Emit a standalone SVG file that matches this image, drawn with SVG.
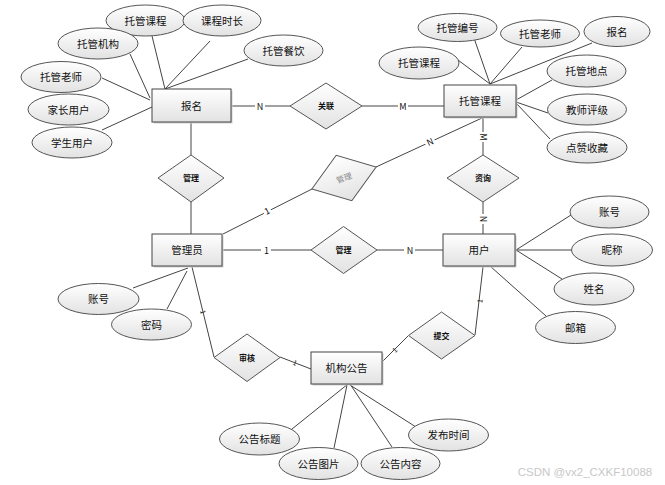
<svg xmlns="http://www.w3.org/2000/svg" width="665" height="485" viewBox="0 0 665 485">
<defs>
<linearGradient id="g" x1="0" y1="0" x2="0" y2="1">
<stop offset="0" stop-color="#ffffff"/>
<stop offset="1" stop-color="#e2e2e2"/>
</linearGradient>
<style>
text{font-family:"Noto Sans CJK SC","Liberation Sans",sans-serif;text-anchor:middle;fill:#111}
.e ellipse{fill:url(#g);stroke:#555;stroke-width:1}
.r rect.b{fill:url(#g);stroke:#444;stroke-width:1}
.r rect.s{fill:#cfcfcf}
.d polygon{fill:url(#g);stroke:#555;stroke-width:1}
.lt{font-size:10.5px}
.dt{font-size:8px;font-weight:bold}
.ct{font-size:9px}
.tk{font-size:7px}
#connectors line,#connectors polyline{stroke:#444;stroke-width:1;fill:none}
</style>
</defs>
<rect width="665" height="485" fill="#fff"/>

<g id="connectors">
<line x1="165" y1="89" x2="152" y2="36"/>
<line x1="165" y1="89" x2="210" y2="41"/>
<line x1="150" y1="98" x2="130" y2="54"/>
<line x1="150" y1="100" x2="102" y2="78"/>
<line x1="165" y1="89" x2="248" y2="59"/>
<line x1="152" y1="107" x2="102" y2="130"/>
<line x1="231" y1="106" x2="290" y2="106"/>
<line x1="191" y1="122" x2="191" y2="155"/>
<line x1="362" y1="106" x2="444" y2="106"/>
<line x1="490" y1="84" x2="474" y2="38"/>
<line x1="490" y1="84" x2="522" y2="47"/>
<line x1="490" y1="84" x2="592" y2="43"/>
<line x1="490" y1="84" x2="458" y2="60"/>
<line x1="516" y1="100" x2="552" y2="80"/>
<line x1="516" y1="102" x2="548" y2="113"/>
<line x1="516" y1="103" x2="550" y2="139"/>
<line x1="483" y1="117" x2="483" y2="155"/>
<line x1="482" y1="118" x2="376" y2="167"/>
<line x1="223" y1="234" x2="312" y2="189"/>
<line x1="191" y1="202" x2="191" y2="234"/>
<line x1="222" y1="250" x2="311" y2="250"/>
<line x1="377" y1="250" x2="443" y2="250"/>
<line x1="483" y1="202" x2="483" y2="234"/>
<line x1="516" y1="250" x2="571" y2="215"/>
<line x1="516" y1="250" x2="572" y2="250"/>
<line x1="516" y1="250" x2="562" y2="279"/>
<line x1="490" y1="266" x2="546" y2="316"/>
<line x1="188" y1="268" x2="133" y2="288"/>
<line x1="187" y1="271" x2="167" y2="309"/>
<line x1="192" y1="267" x2="214" y2="357"/>
<line x1="280" y1="357" x2="311" y2="369"/>
<line x1="483" y1="267" x2="475" y2="335"/>
<line x1="408" y1="336" x2="382" y2="362"/>
<line x1="348" y1="384" x2="292" y2="429"/>
<line x1="347" y1="385" x2="334" y2="448"/>
<line x1="350" y1="384" x2="392" y2="447"/>
<line x1="350" y1="385" x2="416" y2="427"/>
<g>
<rect x="255" y="101" width="10" height="10" fill="#fff"/>
<text class="ct" x="260" y="109.5">N</text>
<rect x="398" y="101" width="10" height="10" fill="#fff"/>
<text class="ct" x="403" y="109.5">M</text>
<rect x="261" y="245" width="10" height="10" fill="#fff"/>
<text class="ct" x="266.5" y="253.5">1</text>
<rect x="404" y="245" width="11" height="10" fill="#fff"/>
<text class="ct" x="410" y="253.5">N</text>
<rect x="478" y="132" width="10" height="10" fill="#fff"/>
<text class="ct" transform="translate(483,137) rotate(90)" y="3.2">M</text>
<rect x="478" y="214" width="10" height="10" fill="#fff"/>
<text class="ct" transform="translate(483,219) rotate(90)" y="3.2">N</text>
<g transform="translate(267,211) rotate(-26.6)"><rect x="-4" y="-5" width="8" height="10" fill="#fff"/><text class="ct" y="3.2">1</text></g>
<g transform="translate(430,142) rotate(-24.8)"><rect x="-5" y="-5" width="10" height="10" fill="#fff"/><text class="ct" y="3.2">N</text></g>
<text class="tk" transform="translate(203,312) rotate(76)" y="2.5">1</text>
<text class="tk" transform="translate(295,363) rotate(22)" y="2.5">1</text>
<text class="tk" transform="translate(395,350) rotate(-44)" y="2.5">1</text>
<text class="tk" transform="translate(480,301) rotate(-83)" y="2.5">1</text>
</g>
</g>

<g id="attr-tuoguankecheng1" class="e"><ellipse cx="145.5" cy="20.5" rx="39.5" ry="15.5"/><text class="lt" x="145.5" y="24.5">托管课程</text></g>
<g id="attr-kechengshichang" class="e"><ellipse cx="222" cy="20.5" rx="39" ry="15.5"/><text class="lt" x="222" y="24.5">课程时长</text></g>
<g id="attr-tuoguanjigou" class="e"><ellipse cx="98" cy="43.5" rx="40" ry="15.5"/><text class="lt" x="98" y="47.5">托管机构</text></g>
<g id="attr-tuoguancanyin" class="e"><ellipse cx="283.5" cy="50.5" rx="39.5" ry="15.5"/><text class="lt" x="283.5" y="54.5">托管餐饮</text></g>
<g id="attr-tuoguanlaoshi1" class="e"><ellipse cx="61" cy="77" rx="40" ry="15.5"/><text class="lt" x="61" y="81">托管老师</text></g>
<g id="attr-jiazhangyonghu" class="e"><ellipse cx="68.5" cy="109.5" rx="40.5" ry="15.5"/><text class="lt" x="68.5" y="113.5">家长用户</text></g>
<g id="attr-xueshengyonghu" class="e"><ellipse cx="72" cy="142.5" rx="40" ry="15.5"/><text class="lt" x="72" y="146.5">学生用户</text></g>

<g id="attr-tuoguanbianhao" class="e"><ellipse cx="457.5" cy="27.5" rx="39.5" ry="14"/><text class="lt" x="457.5" y="31.5">托管编号</text></g>
<g id="attr-tuoguanlaoshi2" class="e"><ellipse cx="540" cy="33.5" rx="39.5" ry="13.5"/><text class="lt" x="540" y="37.5">托管老师</text></g>
<g id="attr-baoming2" class="e"><ellipse cx="617" cy="31.5" rx="33" ry="15"/><text class="lt" x="617" y="35.5">报名</text></g>
<g id="attr-tuoguankecheng2" class="e"><ellipse cx="419" cy="63" rx="40" ry="16"/><text class="lt" x="419" y="67">托管课程</text></g>
<g id="attr-tuoguandidian" class="e"><ellipse cx="586.5" cy="71" rx="39.5" ry="16"/><text class="lt" x="586.5" y="75">托管地点</text></g>
<g id="attr-jiaoshipingji" class="e"><ellipse cx="587" cy="109.5" rx="39.5" ry="15.5"/><text class="lt" x="587" y="113.5">教师评级</text></g>
<g id="attr-dianzanshoucang" class="e"><ellipse cx="587" cy="147.5" rx="40" ry="15.5"/><text class="lt" x="587" y="151.5">点赞收藏</text></g>

<g id="attr-zhanghao-user" class="e"><ellipse cx="609.5" cy="212" rx="39.5" ry="16"/><text class="lt" x="609.5" y="216">账号</text></g>
<g id="attr-nicheng" class="e"><ellipse cx="612" cy="250" rx="40.5" ry="16"/><text class="lt" x="612" y="254">昵称</text></g>
<g id="attr-xingming" class="e"><ellipse cx="594" cy="289" rx="40" ry="16"/><text class="lt" x="594" y="293">姓名</text></g>
<g id="attr-youxiang" class="e"><ellipse cx="575.5" cy="327.5" rx="40" ry="16"/><text class="lt" x="575.5" y="331.5">邮箱</text></g>

<g id="attr-zhanghao-admin" class="e"><ellipse cx="98.5" cy="299" rx="40.5" ry="15.5"/><text class="lt" x="98.5" y="303">账号</text></g>
<g id="attr-mima" class="e"><ellipse cx="151.5" cy="324.5" rx="40" ry="15.5"/><text class="lt" x="151.5" y="328.5">密码</text></g>

<g id="attr-gonggaobiaoti" class="e"><ellipse cx="259.5" cy="439" rx="40" ry="16"/><text class="lt" x="259.5" y="443">公告标题</text></g>
<g id="attr-gonggaotupian" class="e"><ellipse cx="318.5" cy="463.5" rx="39.5" ry="16"/><text class="lt" x="318.5" y="467.5">公告图片</text></g>
<g id="attr-gonggaoneirong" class="e"><ellipse cx="400.5" cy="463.5" rx="39.5" ry="16"/><text class="lt" x="400.5" y="467.5">公告内容</text></g>
<g id="attr-fabushijian" class="e"><ellipse cx="448.5" cy="435" rx="40" ry="16"/><text class="lt" x="448.5" y="439">发布时间</text></g>

<g id="rel-guanlian" class="d"><polygon points="290,106 326,83 362,106 326,129"/><text class="dt" x="326" y="109">关联</text></g>
<g id="rel-guanli1" class="d"><polygon points="158,178 191,155 224,178 191,202"/><text class="dt" x="191" y="181">管理</text></g>
<g id="rel-guanli-gray" class="d" transform="translate(344,178) rotate(-19)"><polygon points="-34,0 0,-24 34,0 0,24"/><text x="0" y="3" style="font-size:8px;fill:#888">管理</text></g>
<g id="rel-zixun" class="d"><polygon points="447,178 483,155 519,178 483,202"/><text class="dt" x="483" y="181">资询</text></g>
<g id="rel-guanli2" class="d"><polygon points="311,250 343.5,226.5 377,250 343.5,273.5"/><text class="dt" x="343.5" y="253">管理</text></g>
<g id="rel-shenhe" class="d"><polygon points="214,357.5 247,334 280,357.5 247,381.5"/><text class="dt" x="247" y="360.5">审核</text></g>
<g id="rel-tijiao" class="d"><polygon points="408.5,335.5 441.5,312 475,335.5 441.5,359"/><text class="dt" x="441.5" y="338.5">提交</text></g>

<g id="ent-baoming" class="r"><rect class="s" x="153.5" y="90.5" width="79" height="33"/><rect class="b" x="152" y="89" width="79" height="33"/><text class="lt" x="191.5" y="109.5">报名</text></g>
<g id="ent-tuoguankecheng" class="r"><rect class="s" x="445.5" y="86.5" width="72" height="32"/><rect class="b" x="444" y="85" width="72" height="32"/><text class="lt" x="480" y="105">托管课程</text></g>
<g id="ent-guanliyuan" class="r"><rect class="s" x="153.5" y="235.5" width="70" height="32"/><rect class="b" x="152" y="234" width="70" height="32"/><text class="lt" x="187" y="254">管理员</text></g>
<g id="ent-yonghu" class="r"><rect class="s" x="444.5" y="235.5" width="72" height="32"/><rect class="b" x="443" y="234" width="72" height="32"/><text class="lt" x="479" y="254">用户</text></g>
<g id="ent-jigougonggao" class="r"><rect class="s" x="312.5" y="353.5" width="71" height="32"/><rect class="b" x="311" y="352" width="71" height="32"/><text class="lt" x="346.5" y="372">机构公告</text></g>

<text x="585" y="476" style="font-size:11.5px;fill:#c8c8c8;font-family:'Liberation Sans',sans-serif">CSDN @vx2_CXKF10088</text>
</svg>
